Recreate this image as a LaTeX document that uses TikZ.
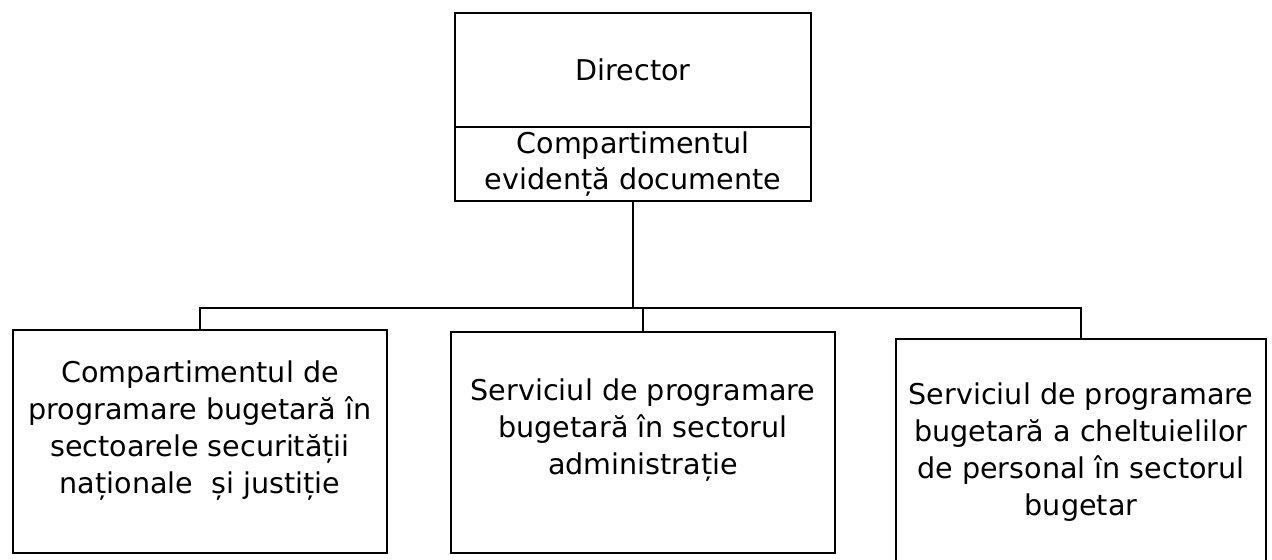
\documentclass[tikz,border=0pt]{standalone}
\usepackage{fontspec}
\setmainfont{DejaVu Sans}
\begin{document}
\begin{tikzpicture}[x=0.5pt,y=-0.5pt,
  box/.style={draw,line width=1.2pt,rectangle,inner sep=0pt,align=center,
    font=\fontsize{14.3pt}{18pt}\selectfont},
  txt/.style={inner sep=0pt,align=center,font=\fontsize{14.3pt}{18.5pt}\selectfont},
  conn/.style={line width=1.2pt}]
\useasboundingbox[fill=white] (0,0) rectangle (1272,560);
\node[box,minimum width=178pt,minimum height=57pt] (dir) at (633,70) {Director};
\node[box,minimum width=178pt,minimum height=37pt] (ced) at (633,164) {Compartimentul\\evidență documente};
\node[box,minimum width=187pt,minimum height=111.5pt] (c1) at (200,441.5) {};
\node[txt] (t1) at (200,431) {Compartimentul de\\programare bugetară în\\sectoarele securității\\naționale \ și justiție};
\node[box,minimum width=192pt,minimum height=110.5pt] (c2) at (643,442.5) {};
\node[txt] (t2) at (643,430) {Serviciul de programare\\bugetară în sectorul\\administrație};
\node[box,minimum width=185pt,minimum height=114pt] (c3) at (1081,453) {};
\node[txt] (t3) at (1081,452) {Serviciul de programare\\bugetară a cheltuielilor\\de personal în sectorul\\bugetar};
\coordinate (bus) at (0,308);
\draw[conn] (ced.south) -- (ced.south |- bus);
\draw[conn] (c1.north) -- (c1.north |- bus) -- (c3.north |- bus) -- (c3.north);
\draw[conn] (c2.north) -- (c2.north |- bus);
\end{tikzpicture}
\end{document}
